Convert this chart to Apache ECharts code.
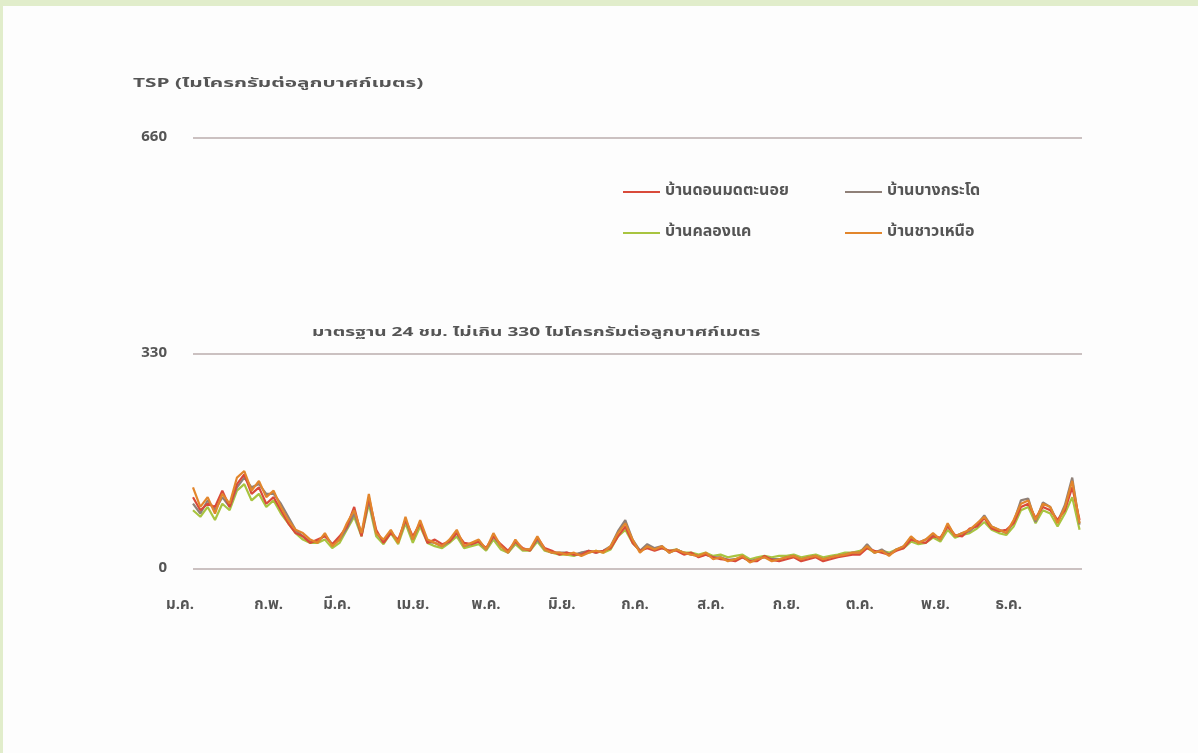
<!DOCTYPE html>
<html>
<head>
<meta charset="utf-8">
<script src="https://cdn.jsdelivr.net/npm/echarts@6/dist/echarts.min.js"></script>
<style>
  html, body { margin: 0; padding: 0; background: #e1edcb; width: 1198px; height: 753px; overflow: hidden; }
  #chart { position: absolute; left: 3px; top: 6px; width: 1195px; height: 747px; background: #fdfdfd; }
</style>
</head>
<body>
<div id="chart"></div>
<script>
// TSP daily readings (µg/m³), one sample every STEP days through the year
const STEP = 3;
const DAYS = 365;
const monthLabels = ['ม.ค.', 'ก.พ.', 'มี.ค.', 'เม.ย.', 'พ.ค.', 'มิ.ย.', 'ก.ค.', 'ส.ค.', 'ก.ย.', 'ต.ค.', 'พ.ย.', 'ธ.ค.'];
const monthStartDay = [0, 31, 59, 90, 120, 151, 181, 212, 243, 273, 304, 334];
const yTicks = [0, 330, 660];

const stationNames = ['บ้านดอนมดตะนอย', 'บ้านบางกระโด', 'บ้านคลองแค', 'บ้านชาวเหนือ'];

const donMadTaNoi = [
  110, 90, 100, 95, 120, 95, 130, 145, 115, 125,
  100, 110, 90, 70, 55, 50, 40, 45, 50, 38,
  50, 65, 95, 50, 110, 60, 40, 55, 45, 75,
  50, 70, 40, 45, 38, 42, 55, 40, 38, 42,
  32, 50, 38, 28, 42, 32, 28, 48, 32, 28,
  22, 25, 22, 22, 28, 25, 28, 32, 50, 65,
  40, 28, 32, 28, 32, 28, 28, 22, 25, 18,
  22, 18, 15, 14, 12, 18, 12, 12, 20, 14,
  12, 15, 18, 12, 15, 18, 12, 15, 18, 20,
  22, 22, 32, 28, 25, 22, 28, 32, 45, 42,
  40, 50, 48, 65, 52, 50, 62, 65, 78, 62,
  58, 60, 70, 95, 100, 78, 95, 90, 75, 90,
  125, 75
];
const bangKrado = [
  100, 85, 105, 90, 110, 95, 125, 140, 125, 130,
  115, 115, 100, 80, 60, 50, 42, 42, 52, 38,
  45, 62, 85, 52, 105, 55, 42, 58, 42, 75,
  45, 72, 42, 40, 35, 42, 55, 35, 38, 42,
  30, 50, 35, 25, 42, 30, 30, 45, 30, 25,
  25, 25, 22, 25, 28, 25, 28, 35, 58, 75,
  45, 28, 38, 32, 35, 25, 30, 25, 22, 20,
  22, 18, 18, 14, 15, 18, 12, 15, 18, 15,
  15, 18, 20, 15, 18, 20, 15, 18, 20, 22,
  25, 25, 38, 25, 30, 22, 30, 35, 48, 40,
  45, 52, 45, 68, 50, 55, 58, 68, 82, 65,
  60, 55, 72, 105, 108, 72, 102, 95, 72, 98,
  140, 68
];
const khlongKhae = [
  90, 80, 95, 75, 100, 90, 120, 130, 105, 115,
  95, 105, 85, 70, 55, 45, 40, 40, 45, 32,
  40, 60, 80, 50, 100, 50, 38, 55, 38, 70,
  40, 65, 40, 35, 32, 40, 50, 32, 35, 38,
  28, 45, 30, 25, 38, 28, 28, 42, 28, 25,
  22, 22, 20, 25, 25, 28, 25, 30, 50, 60,
  40, 28, 35, 30, 32, 28, 30, 25, 25, 22,
  25, 20, 22, 18, 20, 22, 15, 18, 20, 18,
  20, 20, 22, 18, 20, 22, 18, 20, 22, 25,
  25, 28, 32, 25, 28, 25, 30, 32, 42, 38,
  40, 48, 42, 60, 48, 52, 55, 62, 72, 60,
  55, 52, 65, 90, 95, 70, 90, 85, 65, 85,
  110, 60
];
const chaoNuea = [
  125, 95, 110, 85, 115, 100, 140, 150, 120, 135,
  110, 120, 95, 75, 60, 55, 45, 40, 55, 35,
  45, 70, 90, 55, 115, 55, 45, 60, 40, 80,
  45, 75, 45, 40, 35, 45, 60, 35, 40, 45,
  30, 55, 35, 25, 45, 30, 30, 50, 30, 25,
  25, 22, 25, 20, 25, 28, 25, 35, 55, 70,
  45, 25, 35, 30, 35, 25, 30, 25, 22, 20,
  25, 15, 18, 12, 15, 20, 10, 15, 18, 12,
  15, 18, 20, 15, 18, 20, 15, 18, 20, 22,
  25, 25, 35, 25, 28, 20, 30, 35, 50, 40,
  45, 55, 45, 70, 50, 55, 60, 70, 80, 65,
  60, 55, 75, 100, 105, 75, 100, 95, 70, 95,
  135, 70
];

const colors = {
  donMadTaNoi: '#d94a3a',
  bangKrado: '#8f8078',
  khlongKhae: '#a8c440',
  chaoNuea: '#e2862c'
};

// one category per day; month name on the first day of each month
const dayCategories = [];
for (let d = 0; d < DAYS; d++) {
  const m = monthStartDay.indexOf(d);
  dayCategories.push(m >= 0 ? monthLabels[m] : '');
}

const toPairs = vals => vals.map((v, i) => [i * STEP, v]);
const FONT = '"Noto Sans Thai", "Noto Sans", "DejaVu Sans", sans-serif';
const TEXT = '#555';

function lineSeries(name, vals, color) {
  return {
    name: name,
    type: 'line',
    data: toPairs(vals),
    showSymbol: false,
    symbol: 'none',
    lineStyle: { width: 2.2, color: color },
    itemStyle: { color: color },
    emphasis: { disabled: true }
  };
}

const legendText = { fontSize: 16, fontWeight: 'bold', color: TEXT, fontFamily: FONT, lineHeight: 18 };
const monthText = { fontSize: 15, fontWeight: 'bold', color: TEXT, fontFamily: FONT };

const chart = echarts.init(document.getElementById('chart'), null, { renderer: 'canvas' });

chart.setOption({
  animation: false,
  textStyle: { fontFamily: FONT },
  grid: { left: 190, right: 116, top: 132, bottom: 184, containLabel: false },
  legend: [
    {
      data: [stationNames[0], stationNames[2]],
      orient: 'vertical',
      left: 615, top: 172,
      itemWidth: 37, itemHeight: 2, itemGap: 23,
      icon: 'rect',
      textStyle: legendText
    },
    {
      data: [stationNames[1], stationNames[3]],
      orient: 'vertical',
      left: 837, top: 172,
      itemWidth: 37, itemHeight: 2, itemGap: 23,
      icon: 'rect',
      textStyle: legendText
    }
  ],
  xAxis: {
    type: 'category',
    data: dayCategories,
    boundaryGap: false,
    axisLine: { show: false },
    axisTick: { show: false },
    splitLine: { show: false },
    axisLabel: Object.assign({
      interval: 0,
      hideOverlap: false,
      margin: 29,
      // the first month name sits a little left of the axis start
      formatter: (value, idx) => (idx === 0 ? '{first|' + value + '}' : value),
      rich: { first: Object.assign({ padding: [0, 26, 0, 0] }, monthText) }
    }, monthText)
  },
  yAxis: {
    type: 'value',
    min: yTicks[0],
    max: yTicks[yTicks.length - 1],
    interval: yTicks[1] - yTicks[0],
    axisLine: { show: false },
    axisTick: { show: false },
    axisLabel: { margin: 26, fontSize: 15, fontWeight: 'bold', color: TEXT, fontFamily: FONT },
    splitLine: { lineStyle: { color: '#cbc1c1', width: 2 } }
  },
  graphic: [
    {
      type: 'text', x: 130, y: 72, scaleX: 1.6,
      style: { text: 'TSP (ไมโครกรัมต่อลูกบาศก์เมตร)', fontSize: 13, fontWeight: 'bold', fill: TEXT, fontFamily: FONT }
    },
    {
      type: 'text', x: 309, y: 321, scaleX: 1.47,
      style: { text: 'มาตรฐาน 24 ชม. ไม่เกิน 330 ไมโครกรัมต่อลูกบาศก์เมตร', fontSize: 13, fontWeight: 'bold', fill: TEXT, fontFamily: FONT }
    }
  ],
  series: [
    lineSeries(stationNames[2], khlongKhae, colors.khlongKhae),
    lineSeries(stationNames[1], bangKrado, colors.bangKrado),
    lineSeries(stationNames[0], donMadTaNoi, colors.donMadTaNoi),
    lineSeries(stationNames[3], chaoNuea, colors.chaoNuea)
  ]
});
</script>
</body>
</html>
